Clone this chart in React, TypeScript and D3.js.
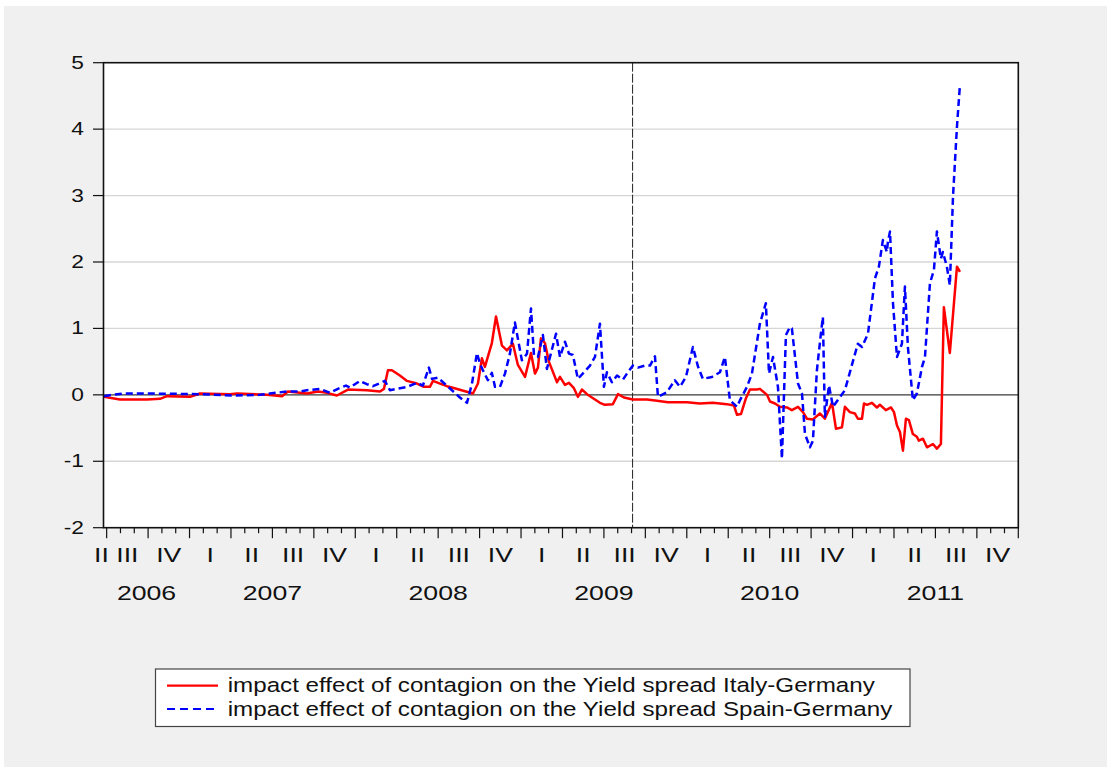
import React from "react";
import * as d3 from "d3";

// Time is in decimal years
const italy: [number, number][] = [
  [2006.484,-0.03],[2006.580,-0.07],[2006.743,-0.07],[2006.822,-0.06],[2006.864,-0.02],[2007.003,-0.03],[2007.063,0.02],[2007.244,0.01],[2007.286,0.02],[2007.467,0.00],[2007.558,-0.02],[2007.594,0.05],[2007.708,0.02],[2007.775,0.05],[2007.829,0.03],[2007.889,-0.01],[2007.956,0.08],[2008.070,0.07],[2008.149,0.05],[2008.173,0.09],[2008.197,0.37],[2008.221,0.37],[2008.269,0.29],[2008.312,0.21],[2008.372,0.17],[2008.414,0.12],[2008.450,0.12],[2008.469,0.21],[2008.511,0.17],[2008.553,0.13],[2008.583,0.11],[2008.710,0.02],[2008.740,0.17],[2008.764,0.55],[2008.782,0.42],[2008.824,0.78],[2008.849,1.18],[2008.885,0.74],[2008.915,0.67],[2008.951,0.77],[2008.981,0.45],[2009.024,0.27],[2009.060,0.63],[2009.084,0.32],[2009.102,0.41],[2009.120,0.85],[2009.144,0.78],[2009.168,0.5],[2009.217,0.19],[2009.235,0.27],[2009.265,0.15],[2009.289,0.18],[2009.319,0.1],[2009.343,-0.03],[2009.367,0.08],[2009.398,0.01],[2009.476,-0.12],[2009.506,-0.15],[2009.554,-0.14],[2009.585,0.01],[2009.621,-0.04],[2009.675,-0.07],[2009.760,-0.07],[2009.820,-0.09],[2009.886,-0.11],[2010.001,-0.11],[2010.079,-0.13],[2010.158,-0.12],[2010.242,-0.14],[2010.284,-0.16],[2010.303,-0.3],[2010.327,-0.29],[2010.357,-0.05],[2010.381,0.08],[2010.423,0.08],[2010.441,0.09],[2010.484,0.0],[2010.502,-0.1],[2010.532,-0.13],[2010.562,-0.18],[2010.604,-0.19],[2010.634,-0.23],[2010.671,-0.18],[2010.701,-0.26],[2010.725,-0.36],[2010.761,-0.37],[2010.803,-0.28],[2010.833,-0.36],[2010.876,-0.12],[2010.900,-0.51],[2010.936,-0.49],[2010.954,-0.18],[2010.984,-0.26],[2011.014,-0.28],[2011.032,-0.36],[2011.057,-0.36],[2011.069,-0.13],[2011.087,-0.15],[2011.117,-0.12],[2011.147,-0.19],[2011.165,-0.15],[2011.201,-0.23],[2011.232,-0.19],[2011.250,-0.26],[2011.268,-0.46],[2011.286,-0.56],[2011.304,-0.84],[2011.322,-0.36],[2011.340,-0.38],[2011.364,-0.59],[2011.388,-0.63],[2011.400,-0.69],[2011.425,-0.66],[2011.449,-0.79],[2011.485,-0.74],[2011.509,-0.81],[2011.533,-0.74],[2011.551,1.32],[2011.587,0.63],[2011.630,1.93],[2011.648,1.85]
];

const spain: [number, number][] = [
  [2006.484,-0.02],[2006.532,0.0],[2006.598,0.02],[2006.761,0.02],[2007.063,0.01],[2007.262,-0.01],[2007.425,0.0],[2007.485,0.02],[2007.588,0.05],[2007.666,0.05],[2007.708,0.07],[2007.787,0.09],[2007.847,0.03],[2007.895,0.09],[2007.944,0.14],[2007.968,0.11],[2008.028,0.21],[2008.070,0.16],[2008.107,0.13],[2008.179,0.21],[2008.209,0.07],[2008.312,0.12],[2008.372,0.18],[2008.408,0.14],[2008.444,0.41],[2008.463,0.24],[2008.499,0.26],[2008.529,0.19],[2008.583,0.07],[2008.631,-0.04],[2008.674,-0.12],[2008.704,0.17],[2008.734,0.63],[2008.752,0.47],[2008.770,0.37],[2008.800,0.22],[2008.824,0.33],[2008.843,0.12],[2008.873,0.12],[2008.903,0.32],[2008.933,0.62],[2008.963,1.09],[2009.005,0.52],[2009.036,0.62],[2009.060,1.3],[2009.078,0.6],[2009.102,0.57],[2009.132,0.9],[2009.156,0.39],[2009.211,0.92],[2009.235,0.57],[2009.265,0.8],[2009.289,0.62],[2009.313,0.6],[2009.343,0.24],[2009.416,0.44],[2009.446,0.57],[2009.476,1.07],[2009.500,0.12],[2009.518,0.34],[2009.548,0.19],[2009.579,0.29],[2009.615,0.23],[2009.639,0.32],[2009.675,0.44],[2009.705,0.41],[2009.747,0.44],[2009.778,0.44],[2009.808,0.58],[2009.826,-0.03],[2009.880,0.04],[2009.928,0.22],[2009.959,0.12],[2009.995,0.27],[2010.037,0.72],[2010.067,0.43],[2010.097,0.24],[2010.152,0.27],[2010.200,0.34],[2010.230,0.57],[2010.260,-0.08],[2010.303,-0.18],[2010.321,-0.08],[2010.363,0.12],[2010.393,0.32],[2010.441,1.07],[2010.477,1.38],[2010.496,0.32],[2010.520,0.57],[2010.550,0.12],[2010.574,-0.96],[2010.598,0.9],[2010.622,1.02],[2010.634,1.0],[2010.671,0.17],[2010.695,0.02],[2010.713,-0.59],[2010.743,-0.79],[2010.761,-0.69],[2010.785,0.37],[2010.809,0.92],[2010.821,1.17],[2010.833,-0.33],[2010.858,0.14],[2010.882,-0.18],[2010.954,0.07],[2010.984,0.34],[2011.032,0.77],[2011.057,0.72],[2011.093,0.92],[2011.135,1.75],[2011.159,1.93],[2011.183,2.33],[2011.207,2.15],[2011.213,2.3],[2011.226,2.46],[2011.244,1.38],[2011.268,0.57],[2011.298,0.77],[2011.316,1.63],[2011.334,0.72],[2011.364,-0.08],[2011.388,0.02],[2011.419,0.42],[2011.437,0.57],[2011.467,1.68],[2011.491,1.88],[2011.509,2.46],[2011.533,2.05],[2011.545,2.15],[2011.569,1.93],[2011.587,1.65],[2011.606,2.98],[2011.630,4.04],[2011.648,4.67]
];

const years = [2006, 2007, 2008, 2009, 2010, 2011];
const quarterNames = ["I", "II", "III", "IV"];
const firstQuarter = 2006.25; // Q2 2006
const lastQuarterEnd = 2012.0;
const xDomainStart = 2006.481;
const yTicks = [-2, -1, 0, 1, 2, 3, 4, 5];
const breakDate = 2009.673;
const seriesNames = [
  "impact effect of contagion on the Yield spread Italy-Germany",
  "impact effect of contagion on the Yield spread Spain-Germany",
];

const FONT = "'Liberation Sans', Arial, Helvetica, sans-serif";

export default function App() {
  const W = 1111, H = 771;
  const left = 103.5, right = 1018.3, top = 62.7, bottom = 527.7;
  const x = d3.scaleLinear().domain([xDomainStart, lastQuarterEnd]).range([left, right]);
  const y = d3.scaleLinear().domain([-2, 5]).range([bottom, top]);
  const line = d3.line<[number, number]>().x(d => x(d[0])).y(d => y(d[1])).curve(d3.curveLinear);

  const months: { t: number; major: boolean }[] = [];
  for (let m = 0; m <= 66; m++) {
    const t = 2006.5 + m / 12;
    if (t > lastQuarterEnd + 1e-6) break;
    months.push({ t, major: m % 3 === 0 });
  }
  const qLabels: { label: string; px: number }[] = [];
  for (let i = 0; ; i++) {
    const qs = firstQuarter + i * 0.25;
    if (qs >= lastQuarterEnd - 1e-6) break;
    const qIndex = Math.round((qs - Math.floor(qs + 1e-9)) * 4);
    let px = x(qs + 0.125);
    if (qs < xDomainStart) px = x(xDomainStart) - 2;
    qLabels.push({ label: quarterNames[qIndex], px });
  }
  const yearLabels = years.map(yr => {
    const s = Math.max(yr, xDomainStart);
    const e = Math.min(yr + 1, lastQuarterEnd);
    return { label: String(yr), px: x((s + e) / 2) };
  });

  const sx = 1.3;

  return (
    <svg width={W} height={H} style={{ position: "absolute", left: 0, top: 0, background: "#ffffff" }}>
      <rect x={4} y={6} width={1103} height={761} fill="#f0f0f0" />
      <rect x={left} y={top} width={right - left} height={bottom - top} fill="#ffffff" />
      {yTicks.filter(v => v !== 0 && v !== 5 && v !== -2).map(v => (
        <line key={"g" + v} x1={left} x2={right} y1={y(v)} y2={y(v)} stroke="#d6d6d6" strokeWidth={1.3} />
      ))}
      <line x1={left} x2={right} y1={y(0)} y2={y(0)} stroke="#3a3a3a" strokeWidth={1.2} />
      <line x1={x(breakDate)} x2={x(breakDate)} y1={top} y2={bottom} stroke="#222" strokeWidth={1} strokeDasharray="9,2" />
      <path d={line(italy) || ""} fill="none" stroke="#ff0000" strokeWidth={2.5} strokeLinejoin="round" />
      <path d={line(spain) || ""} fill="none" stroke="#0000ff" strokeWidth={2.5} strokeDasharray="7,4" strokeLinejoin="round" />
      <rect x={left} y={top} width={right - left} height={bottom - top} fill="none" stroke="#111" strokeWidth={1.6} />
      {yTicks.map(v => (
        <g key={"yt" + v}>
          <line x1={93} x2={left} y1={y(v)} y2={y(v)} stroke="#111" strokeWidth={1.2} />
          <text transform={`translate(84,${y(v) + 6}) scale(${sx},1)`} textAnchor="end" fontFamily={FONT} fontSize={17.5} fill="#111">{v}</text>
        </g>
      ))}
      {months.map((m, i) => (
        <line key={"xt" + i} x1={x(m.t)} x2={x(m.t)} y1={bottom} y2={bottom + (m.major ? 10.5 : 5.5)} stroke="#111" strokeWidth={1.2} />
      ))}
      {qLabels.map((q, i) => (
        <text key={"ql" + i} transform={`translate(${q.px},561.5) scale(${sx},1)`} textAnchor="middle" fontFamily={FONT} fontSize={20.5} fill="#111">{q.label}</text>
      ))}
      {yearLabels.map((q, i) => (
        <text key={"yl" + i} transform={`translate(${q.px},600) scale(${sx},1)`} textAnchor="middle" fontFamily={FONT} fontSize={20.5} fill="#111">{q.label}</text>
      ))}
      <rect x={155.5} y={669} width={754.5} height={57.5} fill="#ffffff" stroke="#444" strokeWidth={1.2} />
      <line x1={167} x2={218} y1={685.7} y2={685.7} stroke="#ff0000" strokeWidth={2.2} />
      <line x1={167} x2={218} y1={709} y2={709} stroke="#0000ff" strokeWidth={2.2} strokeDasharray="8,5" />
      <text transform={`translate(227.7,692.3) scale(1.24,1)`} fontFamily={FONT} fontSize={19.5} fill="#111">{seriesNames[0]}</text>
      <text transform={`translate(227.7,715.7) scale(1.24,1)`} fontFamily={FONT} fontSize={19.5} fill="#111">{seriesNames[1]}</text>
    </svg>
  );
}
